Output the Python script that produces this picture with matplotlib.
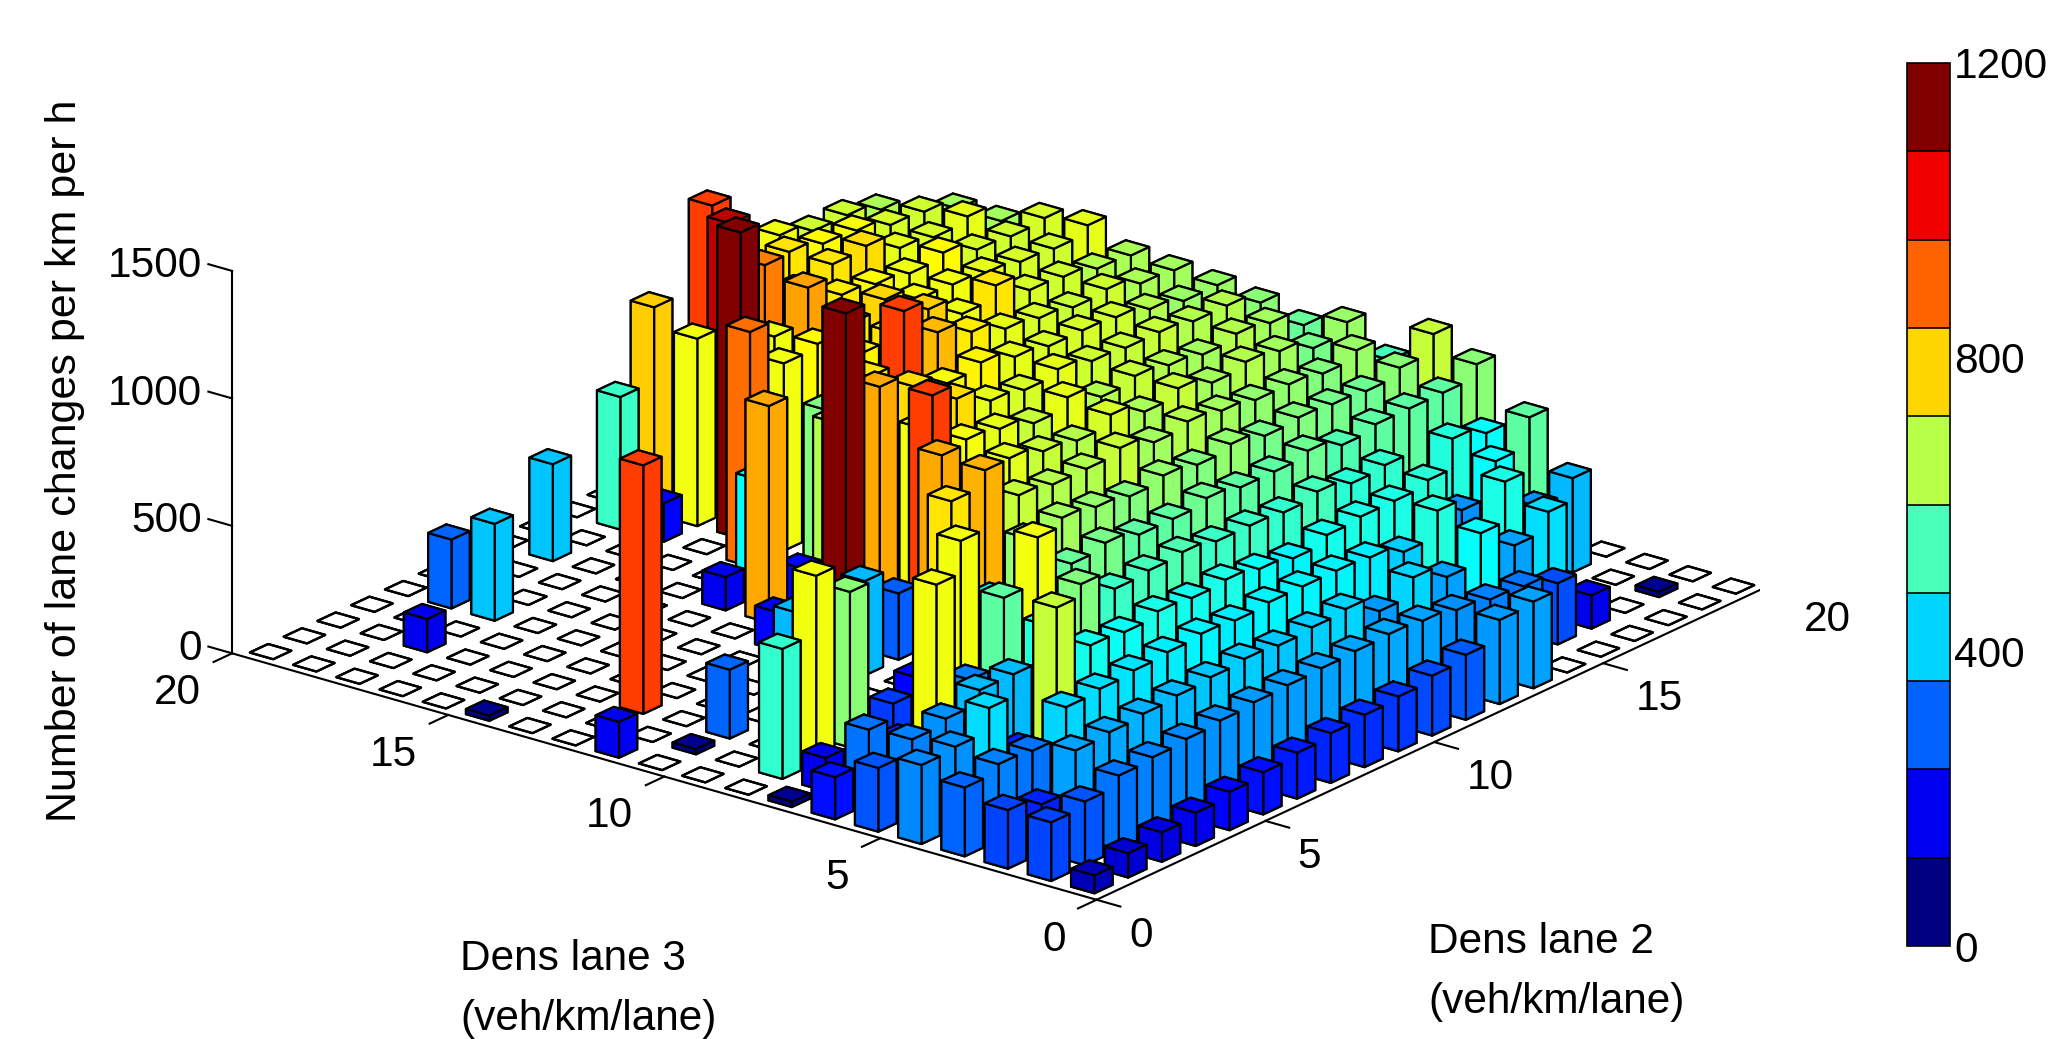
import matplotlib
matplotlib.use("Agg")
import matplotlib.pyplot as plt
from matplotlib.colors import LinearSegmentedColormap
from mpl_toolkits.mplot3d import proj3d
import numpy as np

plt.rcParams['font.family'] = ['Liberation Sans', 'DejaVu Sans']

# one row per dens lane 3 cell (0..19), one value per dens lane 2 cell (0..19)
row00 = [70, 95, 115, 130, 150, 165, 180, 195, 205, 215, 235, 255, 330, 340, 0, 0, 0, 0, 0, 0]
row01 = [230, 250, 290, 300, 310, 320, 330, 335, 340, 345, 350, 340, 320, 300, 290, 240, 130, 0, 20, 0]
row02 = [230, 190, 340, 350, 360, 370, 380, 390, 380, 390, 400, 330, 400, 340, 450, 340, 410, 0, 0, 0]
row03 = [270, 300, 290, 400, 410, 420, 430, 440, 430, 440, 440, 440, 430, 390, 490, 320, 480, 320, 370, 0]
row04 = [310, 320, 410, 190, 680, 470, 460, 480, 470, 480, 460, 440, 470, 480, 480, 500, 320, 450, 560, 0]
row05 = [250, 300, 320, 370, 370, 500, 600, 520, 530, 540, 520, 520, 510, 530, 500, 510, 320, 490, 450, 360]
row06 = [165, 290, 190, 735, 300, 560, 735, 570, 590, 560, 560, 580, 560, 560, 580, 540, 560, 560, 560, 610]
row07 = [20, 130, 0, 220, 0, 735, 450, 620, 640, 620, 600, 620, 600, 620, 590, 600, 590, 580, 610, 680]
row08 = [0, 510, 735, 610, 0, 150, 780, 840, 680, 660, 660, 680, 640, 660, 640, 620, 620, 600, 630, 530]
row09 = [0, 0, 0, 0, 0, 0, 0, 850, 700, 715, 680, 660, 700, 650, 680, 640, 660, 640, 590, 630]
row10 = [0, 20, 270, 0, 370, 0, 370, 260, 975, 740, 720, 680, 720, 660, 680, 660, 640, 660, 640, 570]
row11 = [140, 0, 0, 0, 0, 0, 0, 0, 0, 735, 790, 720, 700, 720, 690, 680, 680, 660, 660, 610]
row12 = [0, 0, 975, 0, 0, 0, 150, 0, 1200, 850, 790, 740, 760, 720, 700, 700, 690, 660, 630, 630]
row13 = [0, 0, 0, 0, 0, 0, 0, 850, 150, 660, 780, 975, 830, 770, 720, 700, 680, 690, 650, 640]
row14 = [20, 0, 0, 0, 0, 0, 0, 130, 450, 0, 600, 760, 780, 810, 730, 780, 700, 690, 660, 650]
row15 = [0, 0, 0, 0, 0, 0, 0, 0, 0, 920, 735, 750, 770, 800, 740, 735, 720, 700, 690, 720]
row16 = [0, 0, 0, 0, 0, 0, 0, 0, 0, 0, 1200, 730, 860, 770, 750, 730, 750, 700, 690, 700]
row17 = [0, 0, 130, 0, 380, 0, 0, 0, 0, 150, 735, 1125, 900, 740, 780, 790, 720, 700, 720, 640]
row18 = [0, 0, 0, 0, 270, 0, 0, 380, 0, 520, 810, 0, 0, 750, 780, 750, 740, 700, 690, 640]
row19 = [0, 0, 0, 0, 0, 0, 0, 0, 0, 0, 0, 0, 0, 975, 700, 735, 690, 690, 650, 560]
changes = np.array([row00, row01, row02, row03, row04, row05, row06, row07, row08, row09,
                    row10, row11, row12, row13, row14, row15, row16, row17, row18, row19])

lane_ticks = [0, 5, 10, 15, 20]
z_ticks = [0, 500, 1000, 1500]
cbar_ticks = [0, 400, 800, 1200]

# matlab's jet, matplotlib's own one has its steps in other places
mjet = LinearSegmentedColormap('mjet', {
    'red': [(0, 0, 0), (0.375, 0, 0), (0.625, 1, 1), (0.875, 1, 1), (1, 0.5, 0.5)],
    'green': [(0, 0, 0), (0.125, 0, 0), (0.375, 1, 1), (0.625, 1, 1), (0.875, 0, 0), (1, 0, 0)],
    'blue': [(0, 0.5, 0.5), (0.125, 1, 1), (0.375, 1, 1), (0.625, 0, 0), (1, 0, 0)]})

W, H = 2051, 1039
FS = 30.5
fig = plt.figure(figsize=(W / 100, H / 100), dpi=100)
ax = fig.add_axes([0.0985, -0.1816, 0.7596, 1.4995], projection='3d', computed_zorder=False)
ax.set_proj_type('ortho')
ax.view_init(elev=21.4, azim=-142)
ax.set_box_aspect((1, 1, 0.3744))
ax.patch.set_alpha(0)

order = sorted(((i, j) for i in range(20) for j in range(20)),
               key=lambda c: -(0.788 * c[0] + 0.616 * c[1]))
w = 0.54
z = 10
for i, j in order:
    v = changes[j, i]
    col = 'white' if v == 0 else mjet(min(v / 1200, 1))
    bars = ax.bar3d(i + 0.5 - w / 2, j + 0.5 - w / 2, 0, w, w, v, color=col, shade=False,
                    edgecolor='black', linewidth=1.6, zsort='max')
    bars.set_zorder(z)
    z += 1

ax.set_xlim(0, 20, view_margin=0)
ax.set_ylim(0, 20, view_margin=0)
ax.set_zlim(0, 1500, view_margin=0)
ax.set_axis_off()
ax.apply_aspect()
M = ax.get_proj()


def label(x, y, zv, s, **kw):
    # text sits in the figure, at the place where the 3d point lands
    px, py, _ = proj3d.proj_transform(x, y, zv, M)
    px, py = ax.transData.transform((px, py))
    fig.text(px / W, py / H, s, fontsize=FS, va='center', **kw)


# axes lines and tick marks
k = dict(color='black', lw=1.5, zorder=1000)
ax.plot([0, 20], [0, 0], [0, 0], **k)
ax.plot([0, 0], [0, 20], [0, 0], **k)
ax.plot([0, 0], [20, 20], [0, 1500], **k)
for t in lane_ticks:
    ax.plot([0, -0.55], [t, t], [0, 0], **k)
    ax.plot([t, t], [0, -0.55], [0, 0], **k)
    label(-1.92, t - 0.78, 0, str(t), ha='right')
    label(t - 1.05, -1.57, 0, str(t), ha='left')
for t in z_ticks:
    ax.plot([0, 0], [20, 20.55], [t, t], **k)
    label(0, 20.69, t - 15, str(t), ha='right')

fig.text(352 * 1.308 / W, 1 - 733 * 1.308 / H, "Dens lane 3", fontsize=FS, va='center')
fig.text(352 * 1.308 / W, 1 - 779 * 1.308 / H, "(veh/km/lane)", fontsize=FS, va='center')
fig.text(1092 * 1.308 / W, 1 - 720 * 1.308 / H, "Dens lane 2", fontsize=FS, va='center')
fig.text(1092 * 1.308 / W, 1 - 766 * 1.308 / H, "(veh/km/lane)", fontsize=FS, va='center')
fig.text(50 * 1.308 / W, 1 - 352 * 1.308 / H, "Number of lane changes per km per h", fontsize=31,
         rotation=90, ha='center', va='center')

# colour bar with ten steps
cax = fig.add_axes([1907 / W, 1 - 946 / H, 43 / W, 883 / H])
sm = plt.cm.ScalarMappable(norm=plt.Normalize(0, 1200), cmap=mjet.resampled(10))
cb = fig.colorbar(sm, cax=cax, drawedges=True)
cb.set_ticks(cbar_ticks)
cb.ax.tick_params(length=0, labelsize=FS, pad=3)
cb.dividers.set_linewidth(1.2)
cb.outline.set_linewidth(1.2)

fig.savefig("out.png", dpi=100)
